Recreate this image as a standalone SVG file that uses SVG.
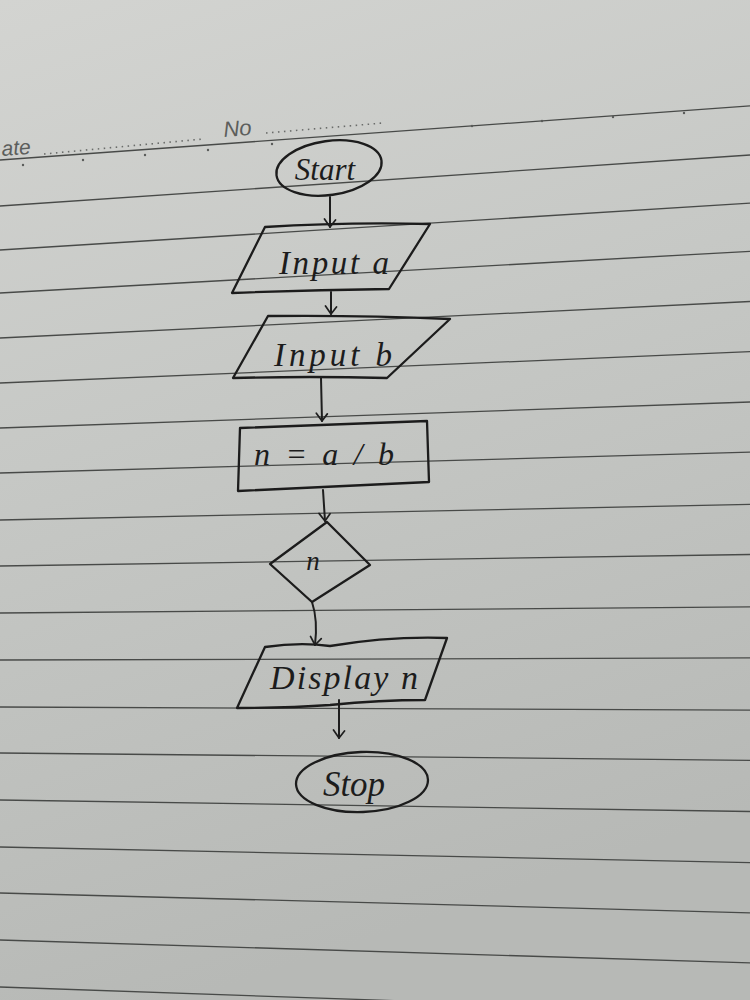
<svg xmlns="http://www.w3.org/2000/svg" width="750" height="1000" viewBox="0 0 750 1000">
  <defs>
    <linearGradient id="paper" x1="0" y1="0" x2="0.25" y2="1">
      <stop offset="0" stop-color="#d3d4d1"/>
      <stop offset="0.45" stop-color="#c6c8c5"/>
      <stop offset="1" stop-color="#b7b9b6"/>
    </linearGradient>
    <marker id="arr" viewBox="0 0 14 14" refX="13" refY="7" markerWidth="14" markerHeight="14" markerUnits="userSpaceOnUse" orient="auto">
      <path d="M6,1.5 L13,7 L5,12.5" fill="none" stroke="#1e1e1e" stroke-width="1.7" stroke-linecap="round" stroke-linejoin="round"/>
    </marker>
    <style>
      .rule { stroke: #484a48; stroke-width: 1.3; fill: none; }
      .shape { fill: none; stroke: #1c1c1c; stroke-width: 2.3; stroke-linejoin: round; stroke-linecap: round; }
      .conn { fill: none; stroke: #1e1e1e; stroke-width: 2; stroke-linecap: round; }
      .hand { font-family: "Liberation Serif", "DejaVu Serif", serif; font-style: italic; fill: #1c1c1c; text-anchor: middle; }
      .print { font-family: "Liberation Sans", Arial, sans-serif; font-style: italic; fill: #5c5e5c; }
      .dots { stroke: #6a6c6a; stroke-width: 1.6; stroke-dasharray: 1.5 4.5; fill: none; }
      .pin { fill: #5a5c5a; }
    </style>
  </defs>

  <rect x="0" y="0" width="750" height="1000" fill="url(#paper)"/>

  <g id="paper-lines">
    <line class="rule" x1="0" y1="160" x2="750" y2="105.8"/>
    <line class="rule" x1="0" y1="206" x2="750" y2="155"/>
    <line class="rule" x1="0" y1="250" x2="750" y2="203.1"/>
    <line class="rule" x1="0" y1="293" x2="750" y2="251.3"/>
    <line class="rule" x1="0" y1="338" x2="750" y2="301.5"/>
    <line class="rule" x1="0" y1="383" x2="750" y2="351.7"/>
    <line class="rule" x1="0" y1="428" x2="750" y2="402"/>
    <line class="rule" x1="0" y1="473" x2="750" y2="452.2"/>
    <line class="rule" x1="0" y1="520" x2="750" y2="504.4"/>
    <line class="rule" x1="0" y1="566" x2="750" y2="554.5"/>
    <line class="rule" x1="0" y1="613" x2="750" y2="606.8"/>
    <line class="rule" x1="0" y1="660" x2="750" y2="657.9"/>
    <line class="rule" x1="0" y1="707" x2="750" y2="710.1"/>
    <line class="rule" x1="0" y1="753" x2="750" y2="760.3"/>
    <line class="rule" x1="0" y1="800" x2="750" y2="811.5"/>
    <line class="rule" x1="0" y1="847" x2="750" y2="862.6"/>
    <line class="rule" x1="0" y1="893" x2="750" y2="912.8"/>
    <line class="rule" x1="0" y1="940" x2="750" y2="962.9"/>
    <line class="rule" x1="0" y1="987" x2="750" y2="1013"/>
  </g>

  <g id="header">
    <text class="print" x="2" y="156" font-size="21" transform="rotate(-4.3 2 156)">ate</text>
    <path class="dots" d="M44,154 L203,139"/>
    <text class="print" x="224" y="137" font-size="22" transform="rotate(-4.3 224 137)">No</text>
    <path class="dots" d="M266,133 L383,123"/>
    <circle class="pin" cx="23" cy="165" r="1.2"/>
    <circle class="pin" cx="83" cy="160" r="1.2"/>
    <circle class="pin" cx="145" cy="155" r="1.2"/>
    <circle class="pin" cx="208" cy="150" r="1.2"/>
    <circle class="pin" cx="272" cy="144" r="1.2"/>
    <circle class="pin" cx="472" cy="126" r="1.2"/>
    <circle class="pin" cx="542" cy="121" r="1.2"/>
    <circle class="pin" cx="613" cy="117" r="1.2"/>
    <circle class="pin" cx="684" cy="113" r="1.2"/>
  </g>

  <g id="connectors">
    <path class="conn" d="M330,197 L330,227" marker-end="url(#arr)"/>
    <path class="conn" d="M331,292 L331,314" marker-end="url(#arr)"/>
    <path class="conn" d="M321,378 L322,421" marker-end="url(#arr)"/>
    <path class="conn" d="M323,490 L325,521" marker-end="url(#arr)"/>
    <path class="conn" d="M312,602 Q318,620 315,645" marker-end="url(#arr)"/>
    <path class="conn" d="M339,700 L339,738" marker-end="url(#arr)"/>
  </g>

  <g id="start">
    <ellipse class="shape" cx="329" cy="168" rx="53" ry="27" transform="rotate(-8 329 168)"/>
    <text class="hand" x="325" y="180" font-size="31">Start</text>
  </g>

  <g id="input-a">
    <path class="shape" d="M265,227 Q345,222 430,224 L389,289 Q310,290 232,293 Z"/>
    <text class="hand" x="334" y="274" font-size="33" textLength="110" lengthAdjust="spacing">Input a</text>
  </g>

  <g id="input-b">
    <path class="shape" d="M268,316 Q360,315 450,319 L387,378 Q310,376 233,378 Z"/>
    <text class="hand" x="333" y="366" font-size="33" textLength="118" lengthAdjust="spacing">Input b</text>
  </g>

  <g id="process">
    <path class="shape" d="M240,428 L427,421 L429,482 L238,491 Z"/>
    <text class="hand" x="324" y="465" font-size="32" textLength="140" lengthAdjust="spacing">n = a / b</text>
  </g>

  <g id="decision">
    <path class="shape" d="M327,522 L370,565 L312,602 L270,564 Z"/>
    <text class="hand" x="313" y="570" font-size="27">n</text>
  </g>

  <g id="display">
    <path class="shape" d="M265,647 Q300,642 330,646 Q390,636 447,638 L425,700 Q380,700 330,705 Q290,708 237,708 Z"/>
    <text class="hand" x="344" y="689" font-size="34" textLength="148" lengthAdjust="spacing">Display n</text>
  </g>

  <g id="stop">
    <ellipse class="shape" cx="362" cy="782" rx="66" ry="30" transform="rotate(-2 362 782)"/>
    <text class="hand" x="354" y="796" font-size="35">Stop</text>
  </g>
</svg>
